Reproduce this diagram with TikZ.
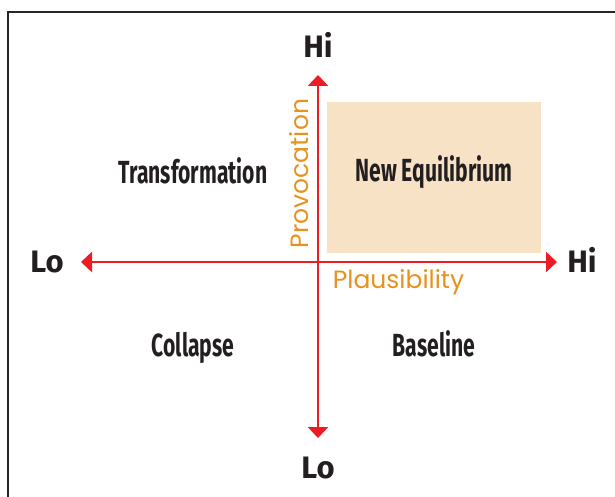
\documentclass[tikz,border=0pt]{standalone}
\usepackage{fontspec}
\usetikzlibrary{arrows.meta, positioning}

\newfontfamily\hilofont{Fira Sans}
\newfontfamily\quadfont{Fira Sans}[FakeStretch=0.66]
\newfontfamily\axisfont{Poppins}

\definecolor{axisred}{RGB}{237,28,36}
\definecolor{labelorange}{RGB}{232,146,30}
\definecolor{peach}{RGB}{248,226,197}
\definecolor{ink}{RGB}{35,31,32}

\begin{document}
\begin{tikzpicture}[
    x=1pt,
    y=-1pt,
    >={Triangle[width=20pt, length=11pt]},
    axis/.style={<->, draw=axisred, fill=axisred, line width=2.8pt},
    hilo/.style={anchor=base, text=ink, font=\hilofont\bfseries\fontsize{31}{31}\selectfont},
    quadrant/.style={anchor=base, text=ink, font=\quadfont\bfseries\fontsize{32}{32}\selectfont},
    axislabel/.style={anchor=base, text=labelorange, font=\axisfont\fontsize{25}{25}\selectfont},
]

    \useasboundingbox (0,0) rectangle (615,497);
    \draw[line width=2pt, black!85] (8,497) |- (615,12);

    \fill[peach] (327,102) rectangle (541,253);

    \coordinate (ytop)    at (318,75);
    \coordinate (ybottom) at (318,438);
    \coordinate (xleft)   at (81,262);
    \coordinate (xright)  at (557,262);

    \draw[axis] (xleft) -- (xright);
    \draw[axis] (ybottom) -- (ytop);

    \node[hilo] (hitop)    at (318,58)  {Hi};
    \node[hilo] (lobottom) at (318,478) {Lo};
    \node[hilo] (loleft)   at (47,272)  {Lo};
    \node[hilo] (hiright)  at (582,272) {Hi};

    \node[quadrant] (transformation) at (193,183) {Transformation};
    \node[quadrant] (equilibrium)    at (434,182) {New Equilibrium};
    \node[quadrant] (collapse)       at (193,356) {Collapse};
    \node[quadrant] (baseline)       at (434,356) {Baseline};

    \node[axislabel, rotate=90] (provocation)  at (308,173.5) {Provocation};
    \node[axislabel]            (plausibility) at (398.5,288) {Plausibility};
\end{tikzpicture}
\end{document}
